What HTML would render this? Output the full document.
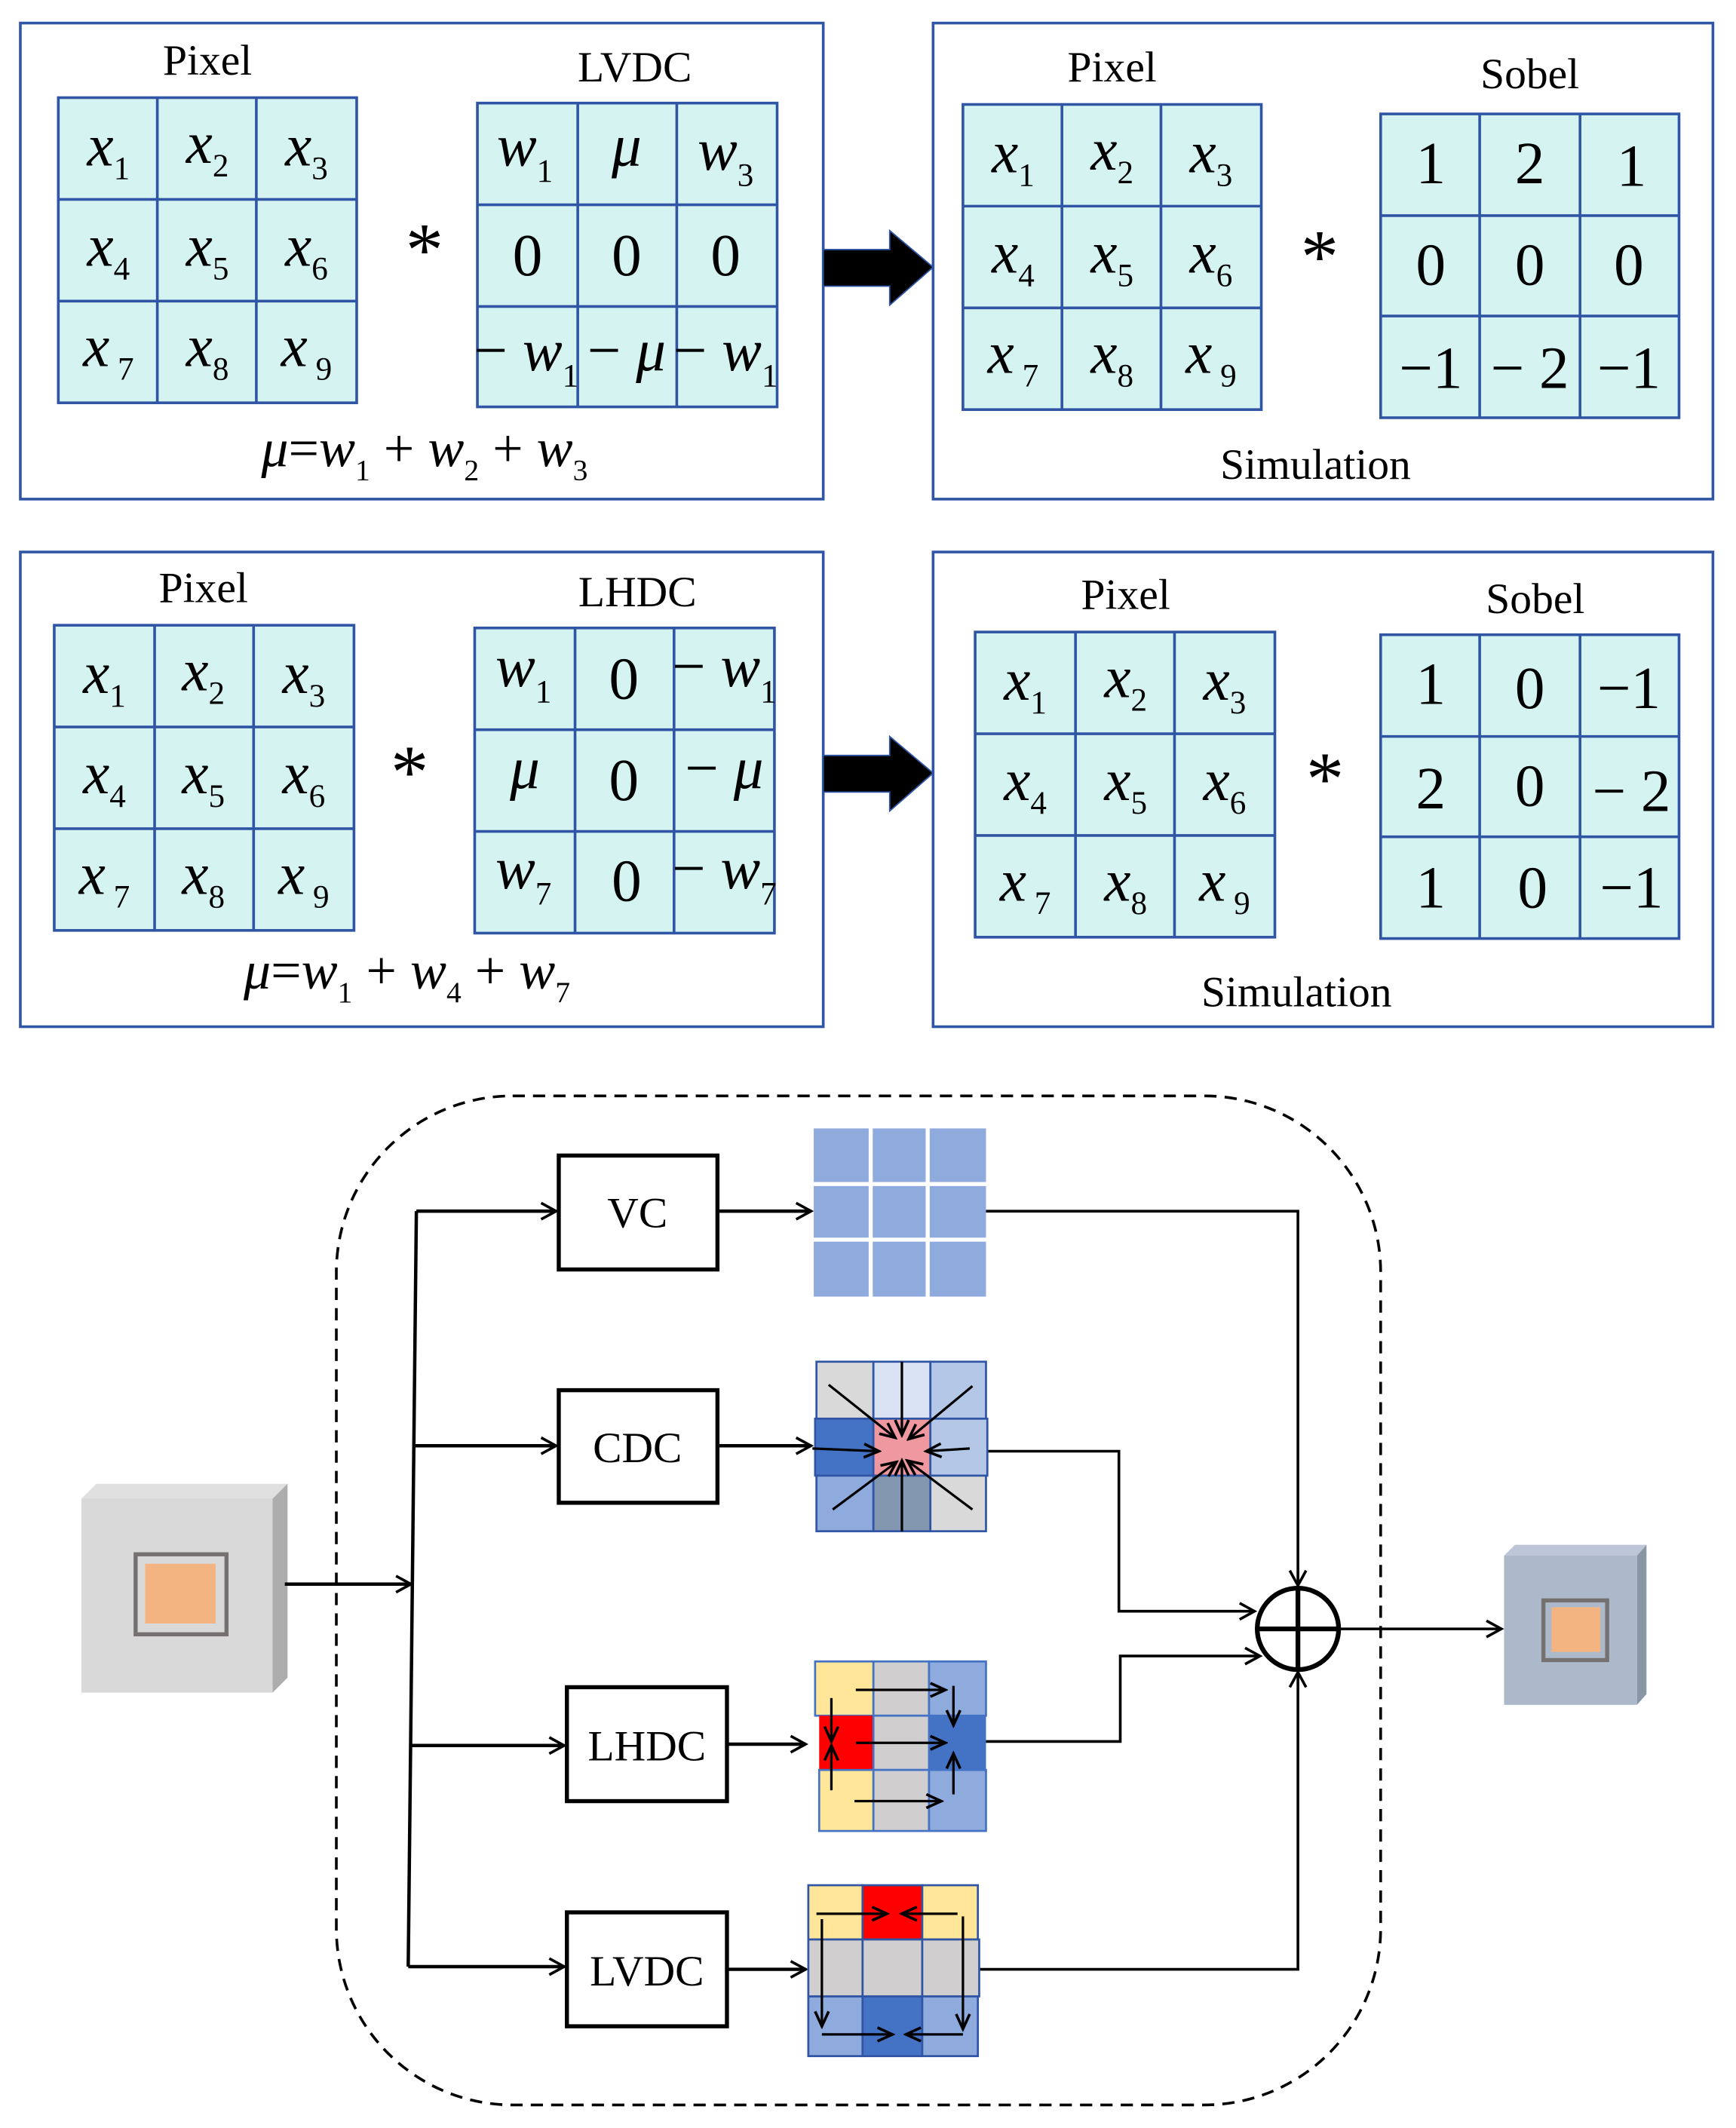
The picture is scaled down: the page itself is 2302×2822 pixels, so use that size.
<!DOCTYPE html>
<html><head><meta charset="utf-8"><style>html,body{margin:0;padding:0;background:#fff}svg{display:block}svg text{font-family:"Liberation Serif","Times New Roman",serif}</style></head><body>
<svg width="2302" height="2822" viewBox="0 0 1280 1569" preserveAspectRatio="none" xmlns="http://www.w3.org/2000/svg">
<defs>
<marker id="a" markerWidth="14" markerHeight="14" refX="12" refY="7" orient="auto" markerUnits="userSpaceOnUse"><path d="M1,1 L12,7 L1,13" fill="none" stroke="#000" stroke-width="2"/></marker>
<marker id="s" markerWidth="14" markerHeight="14" refX="12" refY="7" orient="auto" markerUnits="userSpaceOnUse"><path d="M1,2 L12,7 L1,12" fill="none" stroke="#000" stroke-width="2"/></marker>
</defs>
<g fill="none" stroke="#2f55a4" stroke-width="2">
<rect x="15" y="17" width="592" height="351"/><rect x="688" y="17" width="575" height="351"/>
<rect x="15" y="407" width="592" height="350"/><rect x="688" y="407" width="575" height="350"/>
</g>
<g fill="#d5f3f1" stroke="#2f55a4" stroke-width="2">
<rect x="43" y="72" width="220" height="225"/><rect x="352" y="76" width="221" height="224"/>
<rect x="710" y="77" width="220" height="225"/><rect x="1018" y="84" width="220" height="224"/>
<rect x="40" y="461" width="221" height="225"/><rect x="350" y="463" width="221" height="225"/>
<rect x="719" y="466" width="221" height="225"/><rect x="1018" y="468" width="220" height="224"/>
</g>
<g stroke="#2f55a4" stroke-width="2">
<path d="M116,72V297M189,72V297M43,147H263M43,222H263"/>
<path d="M426,76V300M499,76V300M352,151H573M352,226H573"/>
<path d="M783,77V302M856,77V302M710,152H930M710,227H930"/>
<path d="M1091,84V308M1165,84V308M1018,159H1238M1018,233H1238"/>
<path d="M114,461V686M187,461V686M40,536H261M40,611H261"/>
<path d="M424,463V688M497,463V688M350,538H571M350,613H571"/>
<path d="M793,466V691M866,466V691M719,541H940M719,616H940"/>
<path d="M1091,468V692M1165,468V692M1018,543H1238M1018,617H1238"/>
</g>
<g font-size="32" text-anchor="middle" fill="#000">
<text x="153" y="55">Pixel</text><text x="468" y="60">LVDC</text>
<text x="820" y="60">Pixel</text><text x="1128" y="65">Sobel</text>
<text x="970" y="353">Simulation</text>
<text x="150" y="444">Pixel</text><text x="470" y="447">LHDC</text>
<text x="830" y="449">Pixel</text><text x="1132" y="452">Sobel</text>
<text x="956" y="742">Simulation</text>
<text x="313" y="203" font-size="56">*</text><text x="973" y="208" font-size="56">*</text>
<text x="302" y="588" font-size="56">*</text><text x="977" y="593" font-size="56">*</text>
</g>
<g font-size="44" font-style="italic" text-anchor="middle">
<text x="80" y="122">x<tspan font-size="24" font-style="normal" dy="10">1</tspan></text>
<text x="153" y="120">x<tspan font-size="24" font-style="normal" dy="10">2</tspan></text>
<text x="226" y="122">x<tspan font-size="24" font-style="normal" dy="10">3</tspan></text>
<text x="80" y="196">x<tspan font-size="24" font-style="normal" dy="10">4</tspan></text>
<text x="153" y="196">x<tspan font-size="24" font-style="normal" dy="10">5</tspan></text>
<text x="226" y="196">x<tspan font-size="24" font-style="normal" dy="10">6</tspan></text>
<text x="80" y="270">x<tspan font-size="24" font-style="normal" dy="10"> 7</tspan></text>
<text x="153" y="270">x<tspan font-size="24" font-style="normal" dy="10">8</tspan></text>
<text x="226" y="270">x<tspan font-size="24" font-style="normal" dy="10"> 9</tspan></text>

<text x="747" y="127">x<tspan font-size="24" font-style="normal" dy="10">1</tspan></text>
<text x="820" y="125">x<tspan font-size="24" font-style="normal" dy="10">2</tspan></text>
<text x="893" y="127">x<tspan font-size="24" font-style="normal" dy="10">3</tspan></text>
<text x="747" y="201">x<tspan font-size="24" font-style="normal" dy="10">4</tspan></text>
<text x="820" y="201">x<tspan font-size="24" font-style="normal" dy="10">5</tspan></text>
<text x="893" y="201">x<tspan font-size="24" font-style="normal" dy="10">6</tspan></text>
<text x="747" y="275">x<tspan font-size="24" font-style="normal" dy="10"> 7</tspan></text>
<text x="820" y="275">x<tspan font-size="24" font-style="normal" dy="10">8</tspan></text>
<text x="893" y="275">x<tspan font-size="24" font-style="normal" dy="10"> 9</tspan></text>

<text x="77" y="511">x<tspan font-size="24" font-style="normal" dy="10">1</tspan></text>
<text x="150" y="509">x<tspan font-size="24" font-style="normal" dy="10">2</tspan></text>
<text x="224" y="511">x<tspan font-size="24" font-style="normal" dy="10">3</tspan></text>
<text x="77" y="585">x<tspan font-size="24" font-style="normal" dy="10">4</tspan></text>
<text x="150" y="585">x<tspan font-size="24" font-style="normal" dy="10">5</tspan></text>
<text x="224" y="585">x<tspan font-size="24" font-style="normal" dy="10">6</tspan></text>
<text x="77" y="659">x<tspan font-size="24" font-style="normal" dy="10"> 7</tspan></text>
<text x="150" y="659">x<tspan font-size="24" font-style="normal" dy="10">8</tspan></text>
<text x="224" y="659">x<tspan font-size="24" font-style="normal" dy="10"> 9</tspan></text>

<text x="756" y="516">x<tspan font-size="24" font-style="normal" dy="10">1</tspan></text>
<text x="830" y="514">x<tspan font-size="24" font-style="normal" dy="10">2</tspan></text>
<text x="903" y="516">x<tspan font-size="24" font-style="normal" dy="10">3</tspan></text>
<text x="756" y="590">x<tspan font-size="24" font-style="normal" dy="10">4</tspan></text>
<text x="830" y="590">x<tspan font-size="24" font-style="normal" dy="10">5</tspan></text>
<text x="903" y="590">x<tspan font-size="24" font-style="normal" dy="10">6</tspan></text>
<text x="756" y="664">x<tspan font-size="24" font-style="normal" dy="10"> 7</tspan></text>
<text x="830" y="664">x<tspan font-size="24" font-style="normal" dy="10">8</tspan></text>
<text x="903" y="664">x<tspan font-size="24" font-style="normal" dy="10"> 9</tspan></text>

<text x="387" y="122">w<tspan font-size="24" font-style="normal" dy="12">1</tspan></text>
<text x="462" y="122">μ</text>
<text x="535" y="125">w<tspan font-size="24" font-style="normal" dy="12">3</tspan></text>
<text x="388" y="273"><tspan font-style="normal">− </tspan>w<tspan font-size="24" font-style="normal" dy="12">1</tspan></text>
<text x="462" y="273"><tspan font-style="normal">− </tspan>μ</text>
<text x="535" y="273"><tspan font-style="normal">− </tspan>w<tspan font-size="24" font-style="normal" dy="12">1</tspan></text>
<text x="386" y="506">w<tspan font-size="24" font-style="normal" dy="12">1</tspan></text>
<text x="534" y="506"><tspan font-style="normal">− </tspan>w<tspan font-size="24" font-style="normal" dy="12">1</tspan></text>
<text x="387" y="581">μ</text>
<text x="534" y="581"><tspan font-style="normal">− </tspan>μ</text>
<text x="386" y="655">w<tspan font-size="24" font-style="normal" dy="12">7</tspan></text>
<text x="534" y="655"><tspan font-style="normal">− </tspan>w<tspan font-size="24" font-style="normal" dy="12">7</tspan></text>
</g>
<g font-size="44" text-anchor="middle">
<text x="389" y="203">0</text><text x="462" y="203">0</text><text x="535" y="203">0</text>
<text x="460" y="515">0</text><text x="460" y="590">0</text><text x="462" y="664">0</text>
<text x="1055" y="135">1</text><text x="1128" y="135">2</text><text x="1203" y="137">1</text>
<text x="1055" y="210">0</text><text x="1128" y="210">0</text><text x="1201" y="210">0</text>
<text x="1055" y="286">−1</text><text x="1128" y="286">− 2</text><text x="1201" y="286">−1</text>
<text x="1055" y="519">1</text><text x="1128" y="522">0</text><text x="1201" y="522">−1</text>
<text x="1055" y="596">2</text><text x="1128" y="594">0</text><text x="1203" y="598">− 2</text>
<text x="1055" y="669">1</text><text x="1130" y="669">0</text><text x="1203" y="669">−1</text>
</g>
<g font-size="40" font-style="italic" text-anchor="middle">
<text x="313" y="344">μ<tspan font-style="normal">=</tspan>w<tspan font-size="22" font-style="normal" dy="10">1</tspan><tspan dy="-10" font-style="normal"> + </tspan>w<tspan font-size="22" font-style="normal" dy="10">2</tspan><tspan dy="-10" font-style="normal"> + </tspan>w<tspan font-size="22" font-style="normal" dy="10">3</tspan></text>
<text x="300" y="729">μ<tspan font-style="normal">=</tspan>w<tspan font-size="22" font-style="normal" dy="10">1</tspan><tspan dy="-10" font-style="normal"> + </tspan>w<tspan font-size="22" font-style="normal" dy="10">4</tspan><tspan dy="-10" font-style="normal"> + </tspan>w<tspan font-size="22" font-style="normal" dy="10">7</tspan></text>
</g>
<path d="M607,184 H656 V170 L688,197 L656,225 V211 H607 Z" fill="#000" stroke="#2f55a4" stroke-width="1"/>
<path d="M607,557 H656 V543 L688,570 L656,598 V584 H607 Z" fill="#000" stroke="#2f55a4" stroke-width="1"/>

<rect x="248" y="808" width="770" height="744" rx="130" fill="none" stroke="#000" stroke-width="2" stroke-dasharray="9,6"/>
<polygon points="60,1105 71,1094 212,1094 201,1105" fill="#e0e0e0"/>
<polygon points="201,1105 212,1094 212,1237 201,1248" fill="#adadad"/>
<rect x="60" y="1105" width="141" height="143" fill="#d9d9d9"/>
<rect x="100" y="1146" width="67" height="59" fill="none" stroke="#767171" stroke-width="3"/>
<rect x="107" y="1153" width="52" height="44" fill="#f4b482"/>
<polygon points="1109,1147 1117,1139 1214,1139 1207,1147" fill="#bcc6d6"/>
<polygon points="1207,1147 1214,1139 1214,1249 1207,1257" fill="#8896a6"/>
<rect x="1109" y="1147" width="98" height="110" fill="#acb9ca"/>
<rect x="1138" y="1180" width="47" height="44" fill="none" stroke="#767171" stroke-width="3"/>
<rect x="1144" y="1185" width="36" height="33" fill="#f4b482"/>

<g stroke="#000" stroke-width="2.5" fill="none">
<line x1="210" y1="1168" x2="303" y2="1168" marker-end="url(#a)"/>
<path d="M307,893 L301,1450"/>
<line x1="307" y1="893" x2="410" y2="893" marker-end="url(#a)"/>
<line x1="305" y1="1066" x2="410" y2="1066" marker-end="url(#a)"/>
<line x1="303" y1="1287" x2="416" y2="1287" marker-end="url(#a)"/>
<line x1="301" y1="1450" x2="416" y2="1450" marker-end="url(#a)"/>
<line x1="529" y1="893" x2="598" y2="893" marker-end="url(#a)"/>
<line x1="529" y1="1066" x2="598" y2="1066" marker-end="url(#a)"/>
<line x1="536" y1="1286" x2="594" y2="1286" marker-end="url(#a)"/>
<line x1="536" y1="1452" x2="594" y2="1452" marker-end="url(#a)"/>
</g>
<g stroke="#000" stroke-width="2" fill="none">
<path d="M727,893 H957 V1169" marker-end="url(#a)"/>
<path d="M722,1070 H825 V1188 H925" marker-end="url(#a)"/>
<path d="M727,1284 H826 V1221 H929" marker-end="url(#a)"/>
<path d="M721,1452 H957 V1233" marker-end="url(#a)"/>
<line x1="988" y1="1201" x2="1107" y2="1201" marker-end="url(#a)"/>
<circle cx="957" cy="1201" r="30" stroke-width="3.5"/>
<path d="M927,1201 H987 M957,1171 V1231" stroke-width="3.5"/>
</g>
<g stroke-width="3" stroke="#000">
<rect x="412" y="852" width="117" height="84" fill="#fff"/>
<rect x="412" y="1025" width="117" height="83" fill="#fff"/>
<rect x="418" y="1244" width="118" height="84" fill="#fff"/>
<rect x="418" y="1410" width="118" height="84" fill="#fff"/>
</g>
<g font-size="32" text-anchor="middle">
<text x="470" y="905">VC</text><text x="470" y="1078">CDC</text>
<text x="477" y="1298">LHDC</text><text x="477" y="1464">LVDC</text>
</g>
<rect x="600" y="832" width="127" height="124" fill="#8faadc"/>
<path d="M642,832V956M684,832V956M600,873H727M600,914H727" stroke="#fff" stroke-width="3"/>
<g stroke="#2f55a4" stroke-width="1.5">
<rect x="602" y="1004" width="42" height="42" fill="#d9d9d9"/><rect x="644" y="1004" width="42" height="42" fill="#dae3f3"/><rect x="686" y="1004" width="41" height="42" fill="#b4c7e7"/>
<rect x="601" y="1046" width="43" height="42" fill="#4472c4"/><rect x="644" y="1046" width="42" height="42" fill="#f0989f"/><rect x="686" y="1046" width="42" height="42" fill="#b4c7e7"/>
<rect x="602" y="1088" width="42" height="41" fill="#8faadc"/><rect x="644" y="1088" width="42" height="41" fill="#8497b0"/><rect x="686" y="1088" width="41" height="41" fill="#d9d9d9"/>
</g>
<g stroke="#000" stroke-width="1.8" fill="none" marker-end="url(#s)">
<line x1="611" y1="1021" x2="660" y2="1060"/><line x1="665" y1="1004" x2="665" y2="1058"/><line x1="717" y1="1022" x2="670" y2="1061"/>
<line x1="599" y1="1068" x2="648" y2="1070"/><line x1="715" y1="1068" x2="683" y2="1070"/>
<line x1="614" y1="1113" x2="661" y2="1078"/><line x1="665" y1="1129" x2="665" y2="1077"/><line x1="717" y1="1113" x2="669" y2="1077"/>
</g>
<g stroke="#4472c4" stroke-width="1.5">
<rect x="601" y="1225" width="43" height="40" fill="#ffe699"/><rect x="644" y="1225" width="41" height="40" fill="#d0cece"/><rect x="685" y="1225" width="42" height="40" fill="#8faadc"/>
<rect x="604" y="1265" width="40" height="40" fill="#ff0000" stroke="none"/><rect x="644" y="1265" width="41" height="40" fill="#d0cece"/><rect x="685" y="1265" width="42" height="40" fill="#4472c4" stroke="none"/>
<rect x="604" y="1305" width="40" height="45" fill="#ffe699"/><rect x="644" y="1305" width="41" height="45" fill="#d0cece"/><rect x="685" y="1305" width="42" height="45" fill="#8faadc"/>
</g>
<g stroke="#000" stroke-width="1.8" fill="none" marker-end="url(#s)">
<line x1="631" y1="1246" x2="697" y2="1246"/><line x1="631" y1="1285" x2="697" y2="1285"/><line x1="630" y1="1328" x2="694" y2="1328"/>
<line x1="613" y1="1252" x2="613" y2="1284"/><line x1="613" y1="1320" x2="613" y2="1287"/>
<line x1="703" y1="1243" x2="703" y2="1272"/><line x1="703" y1="1323" x2="703" y2="1293"/>
</g>
<g stroke="#2f55a4" stroke-width="1.5">
<rect x="596" y="1390" width="40" height="40" fill="#ffe699"/><rect x="636" y="1390" width="44" height="40" fill="#ff0000"/><rect x="680" y="1390" width="41" height="40" fill="#ffe699"/>
<rect x="596" y="1430" width="40" height="42" fill="#d0cece"/><rect x="636" y="1430" width="44" height="42" fill="#d0cece"/><rect x="680" y="1430" width="42" height="42" fill="#d0cece"/>
<rect x="596" y="1472" width="40" height="44" fill="#8faadc"/><rect x="636" y="1472" width="44" height="44" fill="#4472c4"/><rect x="680" y="1472" width="41" height="44" fill="#8faadc"/>
</g>
<g stroke="#000" stroke-width="1.8" fill="none" marker-end="url(#s)">
<line x1="602" y1="1411" x2="654" y2="1411"/><line x1="706" y1="1411" x2="665" y2="1411"/>
<line x1="606" y1="1415" x2="606" y2="1494"/><line x1="710" y1="1413" x2="710" y2="1496"/>
<line x1="606" y1="1500" x2="658" y2="1500"/><line x1="710" y1="1500" x2="668" y2="1500"/>
</g>
</svg>
</body></html>
